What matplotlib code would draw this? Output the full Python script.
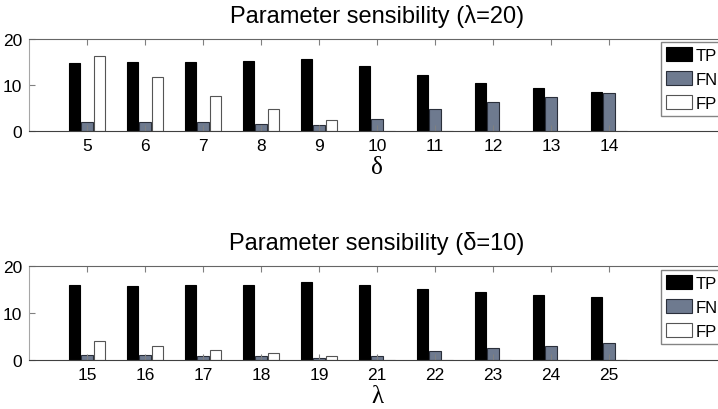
import numpy as np
import matplotlib
matplotlib.use("Agg")
import matplotlib.pyplot as plt

plt.rcParams['font.family'] = ['Liberation Sans', 'DejaVu Sans']

# top panel: varying delta, lambda = 20
delta_labels = ['5', '6', '7', '8', '9', '10', '11', '12', '13', '14']
tp_delta = [14.8, 15.0, 15.0, 15.3, 15.7, 14.1, 12.1, 10.5, 9.4, 8.45]
fn_delta = [2.0, 1.9, 1.9, 1.6, 1.2, 2.65, 4.8, 6.3, 7.4, 8.3]
fp_delta = [16.3, 11.8, 7.7, 4.7, 2.3, 0, 0, 0, 0, 0]

# bottom panel: varying lambda, delta = 10
lambda_labels = ['15', '16', '17', '18', '19', '21', '22', '23', '24', '25']
tp_lambda = [15.9, 15.8, 15.9, 16.05, 16.5, 16.05, 15.2, 14.5, 13.8, 13.4]
fn_lambda = [1.15, 1.1, 0.9, 0.75, 0.45, 0.95, 1.85, 2.5, 3.0, 3.55]
fp_lambda = [4.0, 3.0, 2.15, 1.45, 0.8, 0, 0, 0, 0, 0]

series_names = ['TP', 'FN', 'FP']
fn_color = '#6e7a8f'


def draw_panel(ax, labels, tp, fn, fp, title, xlabel, leg_anchor):
    x = np.arange(1, len(labels) + 1)
    w = 0.19
    ax.bar(x - 0.22, tp, w, color='black', edgecolor='black', linewidth=0.8, label=series_names[0])
    ax.bar(x, fn, w, color=fn_color, edgecolor='#2a2f3a', linewidth=0.8, label=series_names[1])
    ax.bar(x + 0.22, fp, w, color='white', edgecolor='#555555', linewidth=0.8, label=series_names[2])
    ax.set_xlim(0, 12)
    ax.set_ylim(0, 20)
    ax.set_yticks([0, 10, 20])
    ax.set_xticks(x)
    ax.set_xticklabels(labels)
    ax.tick_params(direction='in', top=True, length=4, color='0.5', labelsize=12.5, pad=5)
    ax.spines['left'].set_color('0.65')
    ax.spines['top'].set_color('0.4')
    ax.spines['bottom'].set_color('0.25')
    ax.spines['right'].set_color('0.4')
    ax.set_title(title, fontsize=17, pad=12)
    ax.set_xlabel(xlabel, fontsize=18, family=['Liberation Serif', 'DejaVu Serif'], labelpad=2)
    fig.legend(*ax.get_legend_handles_labels(), loc='upper left', bbox_to_anchor=leg_anchor,
               bbox_transform=fig.transFigure, fontsize=12, frameon=True, fancybox=False,
               edgecolor='0.4', handlelength=1.55, handleheight=0.9, labelspacing=0.5,
               handletextpad=0.2, borderpad=0.3, borderaxespad=0)


fig = plt.figure(figsize=(7.18, 4.10), dpi=100)
ax1 = fig.add_axes([29 / 718, 1 - 132 / 410, 696 / 718, 92 / 410])
ax2 = fig.add_axes([29 / 718, 1 - 361 / 410, 696 / 718, 94 / 410])

draw_panel(ax1, delta_labels, tp_delta, fn_delta, fp_delta,
           'Parameter sensibility (\u03bb=20)', '\u03b4', (661 / 718, 1 - 43 / 410))
draw_panel(ax2, lambda_labels, tp_lambda, fn_lambda, fp_lambda,
           'Parameter sensibility (\u03b4=10)', '\u03bb', (661 / 718, 1 - 271 / 410))

fig.savefig('out.png', dpi=100)
